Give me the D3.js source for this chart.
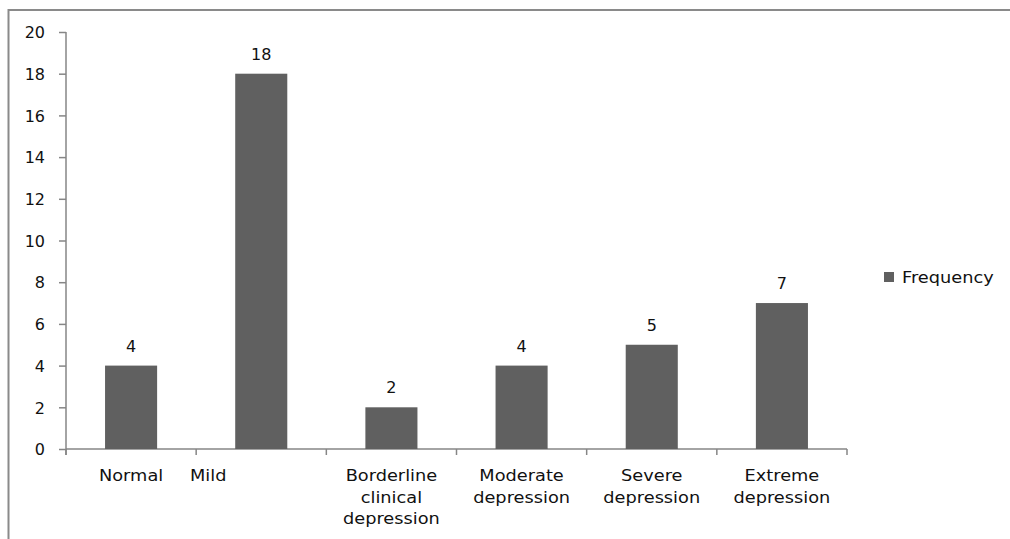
<!DOCTYPE html>
<html>
<head>
<meta charset="utf-8">
<script src="https://cdn.jsdelivr.net/npm/d3@7"></script>
<style>
  html, body { margin: 0; padding: 0; background: #fff; }
  svg { display: block; }
  text { font-family: "DejaVu Sans", sans-serif; font-size: 16px; fill: #111; }
</style>
</head>
<body>
<svg id="chart" width="1010" height="539"></svg>
<script>
const categories = [
  ["Normal"],
  ["Mild"],
  ["Borderline", "clinical", "depression"],
  ["Moderate", "depression"],
  ["Severe", "depression"],
  ["Extreme", "depression"]
];
const frequency = [4, 18, 2, 4, 5, 7];
const yTicks = [0, 2, 4, 6, 8, 10, 12, 14, 16, 18, 20];
const seriesName = "Frequency";

const W = 1010, H = 539;
const svg = d3.select("#chart");
const textStretch = 1.11;
const numStretch = 1.0;
const barColor = "#606060";
const axisColor = "#868686";

// outer frame (partial, as in reference)
svg.append("path")
  .attr("d", `M8.5,${H} V10 H${W}`)
  .attr("fill", "none")
  .attr("stroke", "#8a8a8a")
  .attr("stroke-width", 2);

const x = d3.scaleBand()
  .domain(d3.range(categories.length))
  .range([66, 847])
  .paddingInner(0.6)
  .paddingOuter(0.3);

const y = d3.scaleLinear().domain([0, 20]).range([449, 32]);

function stretchedText(g, tx, ty, str, anchor, s) {
  const gg = g.append("g").attr("transform", `translate(${tx},${ty}) scale(${s},1)`);
  gg.append("text").attr("text-anchor", anchor || "middle").text(str);
  return gg;
}

// y axis
const yAxis = svg.append("g")
  .attr("transform", "translate(66,0)")
  .call(d3.axisLeft(y).tickValues(yTicks).tickSize(7).tickPadding(14).tickFormat(d3.format("d")));
yAxis.select(".domain").attr("stroke", axisColor).attr("stroke-width", 1.5)
  .attr("d", `M0,${y(20)}V${y(0) + 6}`);
yAxis.selectAll(".tick line").attr("stroke", axisColor).attr("stroke-width", 1.5);
yAxis.selectAll(".tick text")
  .style("font-family", "DejaVu Sans, sans-serif")
  .style("font-size", "16px")
  .attr("fill", "#111")
  .attr("dy", "0.36em");

// x axis baseline and category boundary ticks
svg.append("line")
  .attr("x1", x.range()[0]).attr("x2", x.range()[1])
  .attr("y1", y(0)).attr("y2", y(0))
  .attr("stroke", axisColor).attr("stroke-width", 1.5);
const step = (x.range()[1] - x.range()[0]) / categories.length;
svg.selectAll(".xtick")
  .data(d3.range(categories.length + 1))
  .enter().append("line")
  .attr("x1", i => x.range()[0] + i * step)
  .attr("x2", i => x.range()[0] + i * step)
  .attr("y1", y(0)).attr("y2", y(0) + 6)
  .attr("stroke", axisColor).attr("stroke-width", 1.5);

// bars
svg.selectAll(".bar")
  .data(frequency)
  .enter().append("rect")
  .attr("x", (d, i) => x(i))
  .attr("y", d => y(d))
  .attr("width", x.bandwidth())
  .attr("height", d => y(0) - y(d))
  .attr("fill", barColor);

// value labels
frequency.forEach((d, i) => {
  stretchedText(svg, x(i) + x.bandwidth() / 2, y(d) - 14, String(d), "middle", numStretch);
});

// category labels (the "Mild" label sits left of its bar in the reference)
const labelShift = [0, -53, 0, 0, 0, 0];
categories.forEach((lines, i) => {
  const cx = x(i) + x.bandwidth() / 2 + labelShift[i];
  lines.forEach((ln, j) => {
    stretchedText(svg, cx, 481 + j * 21.5, ln, "middle", textStretch);
  });
});

// legend
svg.append("rect").attr("x", 884).attr("y", 272).attr("width", 10).attr("height", 10).attr("fill", barColor);
stretchedText(svg, 902, 283, seriesName, "start", textStretch);
</script>
</body>
</html>
